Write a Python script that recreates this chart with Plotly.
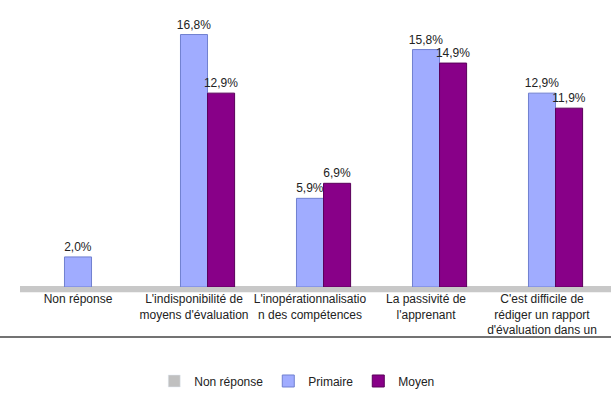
import plotly.graph_objects as go

categories = [
    "Non réponse",
    "L'indisponibilité de<br>moyens d'évaluation",
    "L'inopérationnalisatio<br>n des compétences",
    "La passivité de<br>l'apprenant",
    "C'est difficile de<br>rédiger un rapport<br>d'évaluation dans un",
]
non_reponse = [None, None, None, None, None]
primaire = [2.0, 16.8, 5.9, 15.8, 12.9]
moyen = [None, 12.9, 6.9, 14.9, 11.9]


def fmt(vals):
    return ["" if v is None else f"{v:.1f}%".replace(".", ",") for v in vals]


FONT = "Liberation Sans, Arial, sans-serif"

fig = go.Figure()
fig.add_trace(go.Bar(name="Non réponse", x=categories, y=non_reponse,
                     marker=dict(color="#C0C0C0")))
fig.add_trace(go.Bar(name="Primaire", x=categories, y=primaire,
                     marker=dict(color="#A0ACFF", line=dict(color="#7080D0", width=1)),
                     text=fmt(primaire), textposition="outside",
                     constraintext="none", cliponaxis=False,
                     textfont=dict(size=12, color="#222222", family=FONT)))
fig.add_trace(go.Bar(name="Moyen", x=categories, y=moyen,
                     marker=dict(color="#880088", line=dict(color="#5A005A", width=1)),
                     text=fmt(moyen), textposition="outside",
                     constraintext="none", cliponaxis=False,
                     textfont=dict(size=12, color="#222222", family=FONT)))

fig.update_layout(
    width=611, height=394,
    margin=dict(l=20, r=11, t=24, b=107, autoexpand=False),
    barmode="group", bargap=0.30, bargroupgap=0,
    paper_bgcolor="white", plot_bgcolor="white",
    font=dict(family=FONT, size=12, color="#222222"),
    showlegend=True,
    legend=dict(orientation="h", x=0.478, xanchor="center",
                yref="container", y=0.033, yanchor="middle",
                font=dict(size=12, family=FONT), itemwidth=30, traceorder="normal",
                tracegroupgap=0),
    xaxis=dict(showgrid=False, showline=False, ticks="", ticklabelstandoff=3,
               tickfont=dict(size=12, family=FONT)),
    yaxis=dict(range=[0, 17.5], visible=False),
    shapes=[
        # floor slab
        dict(type="rect", xref="paper", yref="paper", x0=0, x1=1.019, y0=-0.02, y1=0.004,
             fillcolor="#C8C8C8", line=dict(width=0), layer="below"),
        # separator line
        dict(type="line", xref="paper", yref="paper", x0=-0.04, x1=1.02, y0=-0.19, y1=-0.19,
             line=dict(color="#444444", width=1.5)),
    ],
)

fig.write_html("out.html")
